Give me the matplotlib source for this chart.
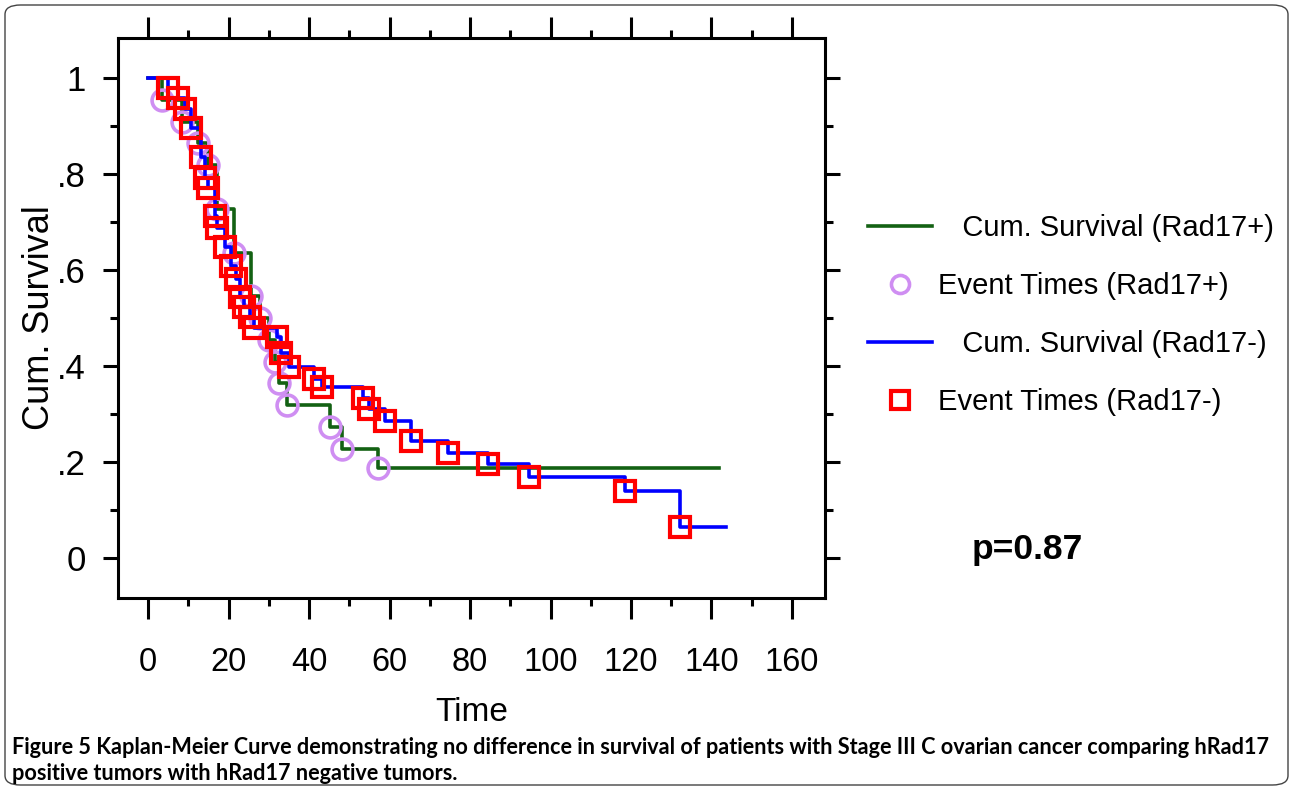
import numpy as np
import matplotlib
matplotlib.use("Agg")
import matplotlib.pyplot as plt
from matplotlib.lines import Line2D
from matplotlib.patches import FancyBboxPatch

# Kaplan-Meier data (time, survival after event)
pos_times = [3.5, 8.4, 12.4, 14.9, 17.1, 21.3, 25.5, 27.8, 30.0, 31.5, 32.5, 34.5, 45.2, 48.2, 57.1]
pos_surv = [0.955, 0.909, 0.864, 0.818, 0.727, 0.636, 0.545, 0.500, 0.455, 0.409, 0.364, 0.318, 0.273, 0.227, 0.187]
pos_last = 141.9

neg_times = [5.0, 7.5, 9.2, 10.7, 13.2, 14.2, 14.9, 16.6, 17.1, 19.1, 20.6, 21.9, 22.9, 23.9, 25.3,
             26.3, 32.0, 33.0, 35.0, 41.2, 43.2, 53.5, 55.0, 58.9, 65.4, 74.5, 84.4, 94.7, 118.4, 132.2]
neg_surv = [0.979, 0.958, 0.935, 0.896, 0.835, 0.792, 0.771, 0.712, 0.687, 0.648, 0.608, 0.582, 0.544, 0.523, 0.502,
            0.479, 0.460, 0.428, 0.397, 0.373, 0.356, 0.333, 0.310, 0.285, 0.244, 0.219, 0.195, 0.169, 0.140, 0.065]
neg_last = 143.6

xticks = [0, 20, 40, 60, 80, 100, 120, 140, 160]
yticks = [0, 0.2, 0.4, 0.6, 0.8, 1.0]
ytick_labels = ['0', '.2', '.4', '.6', '.8', '1']

REG = ['Liberation Sans', 'DejaVu Sans']

green = '#136113'
blue = '#0000ff'
red = '#ff0000'
purple = '#cf8ef2'

#%%
fig = plt.figure(figsize=(12.93, 7.90), dpi=100)
ax = fig.add_axes([118/1293, 1-598/790, (825-118)/1293, (598-38)/790])

# step curves
tp = [0] + pos_times + [pos_last]
sp = [1.0] + pos_surv + [pos_surv[-1]]
tn = [0] + neg_times + [neg_last]
sn = [1.0] + neg_surv + [neg_surv[-1]]

ax.step(tp, sp, where='post', color=green, lw=2.6, zorder=2)
ax.plot(pos_times, pos_surv, 'o', ms=15, mfc='none', mec=purple, mew=2.6, zorder=3)
ax.step(tn, sn, where='post', color=blue, lw=2.6, zorder=4)
ax.plot(neg_times, neg_surv, 's', ms=15, mfc='none', mec=red, mew=3, zorder=5)

ax.set_xlim((118-148)/4.025, (825-148)/4.025)
ax.set_ylim(-40/480, 520/480)

ax.set_xticks(xticks)
ax.set_xticks(np.arange(0, 170, 10), minor=True)
ax.set_yticks(yticks)
ax.set_yticks(np.arange(0, 1.05, 0.1), minor=True)
ax.set_yticklabels(ytick_labels)

ax.tick_params(which='both', direction='out', width=2.2, top=True, right=True)
ax.tick_params(which='major', length=11)
ax.tick_params(which='minor', length=6)
ax.tick_params(axis='x', which='major', length=15, pad=20, labelsize=23.5)
ax.tick_params(axis='y', which='major', pad=12, labelsize=25)
for lab in ax.get_xticklabels() + ax.get_yticklabels():
    lab.set_family(REG)
for s in ax.spines.values():
    s.set_linewidth(2.2)

ax.set_xlabel('Time', family=REG, fontsize=24, labelpad=14)
ax.set_ylabel('Cum. Survival', family=REG, fontsize=26, labelpad=0)

# legend
handles = [Line2D([], [], color=green, lw=2.6),
           Line2D([], [], ls='none', marker='o', ms=13, mfc='none', mec=purple, mew=2.6),
           Line2D([], [], color=blue, lw=2.6),
           Line2D([], [], ls='none', marker='s', ms=13, mfc='none', mec=red, mew=3)]
labels = ['   Cum. Survival (Rad17+)', 'Event Times (Rad17+)',
          '   Cum. Survival (Rad17-)', 'Event Times (Rad17-)']
fig.legend(handles, labels, loc='upper left', bbox_to_anchor=(868/1293, 1-214/790),
           frameon=False, prop={'family': REG, 'size': 21}, handlelength=2.2,
           handletextpad=0.2, labelspacing=1.03, borderpad=0, borderaxespad=0)

fig.text(972/1293, 1-550/790, 'p=0.87', family=REG, fontsize=25.5, fontweight='bold', va='center')

# caption
fig.text(12/1293, 1-748/790,
         'Figure 5 Kaplan-Meier Curve demonstrating no difference in survival of patients with Stage III C ovarian cancer comparing hRad17',
         family='Lato', fontsize=15.6, fontweight='bold', va='center')
fig.text(12/1293, 1-774/790, 'positive tumors with hRad17 negative tumors.',
         family='Lato', fontsize=15.6, fontweight='bold', va='center')

fig.add_artist(FancyBboxPatch((5/1293, 5/790), 1283/1293, 780/790, transform=fig.transFigure,
                              boxstyle='round,pad=0,rounding_size=0.012', fc='none', ec='#444444', lw=1))

plt.savefig('out.png', dpi=100)
